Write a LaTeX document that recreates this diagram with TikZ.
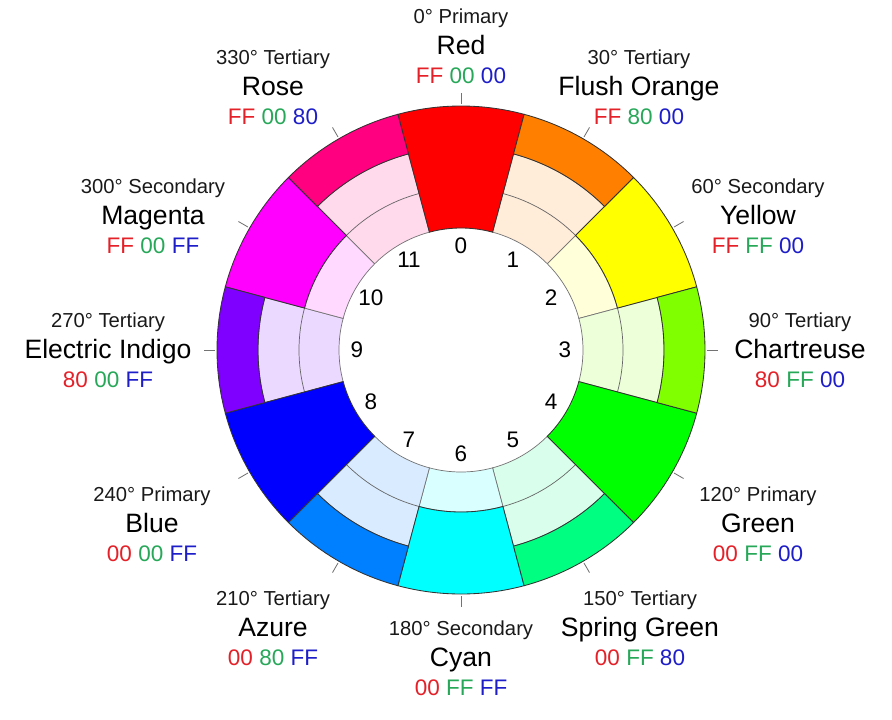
\documentclass[tikz,border=0pt]{standalone}
\usepackage{fontspec}
\setmainfont{Liberation Sans}
\usepackage{xcolor}
\usepackage{tikz}
\definecolor{hueRed}{HTML}{FF0000}
\definecolor{hueFlush}{HTML}{FF8000}
\definecolor{hueYellow}{HTML}{FFFF00}
\definecolor{hueChart}{HTML}{80FF00}
\definecolor{hueGreen}{HTML}{00FF00}
\definecolor{hueSpring}{HTML}{00FF80}
\definecolor{hueCyan}{HTML}{00FFFF}
\definecolor{hueAzure}{HTML}{0080FF}
\definecolor{hueBlue}{HTML}{0000FF}
\definecolor{hueIndigo}{HTML}{8000FF}
\definecolor{hueMagenta}{HTML}{FF00FF}
\definecolor{hueRose}{HTML}{FF0080}
\definecolor{hexred}{RGB}{228,32,40}
\definecolor{hexgreen}{RGB}{38,168,88}
\definecolor{hexblue}{RGB}{30,30,200}
\newcommand{\hexR}[1]{\textcolor{hexred}{#1}}
\newcommand{\hexG}[1]{\textcolor{hexgreen}{#1}}
\newcommand{\hexB}[1]{\textcolor{hexblue}{#1}}

\begin{document}
\begin{tikzpicture}[
    x=0.025cm, y=0.025cm,
    seg/.style={fill=#1, draw=black!80, line width=0.6pt},
    pale/.style={fill=#1!15, draw=black!55, line width=0.5pt},
    divide/.style={draw=black!60, line width=0.5pt},
    tick/.style={draw=black!55, line width=0.6pt},
    slot/.style={font=\fontsize{16}{19}\selectfont},
    degtext/.style={font=\fontsize{14.4}{17}\selectfont, text=black!90, anchor=base},
    cname/.style={font=\fontsize{18.9}{22}\selectfont, anchor=base},
    hexcode/.style={font=\fontsize{16}{19}\selectfont, anchor=base}
]
\useasboundingbox (-461,-369) rectangle (431,350);

% Pale inner bands
\filldraw[pale=hueFlush] (45:122) arc[start angle=45, end angle=75, radius=122] -- (75:203) arc[start angle=75, end angle=45, radius=203] -- cycle;
\filldraw[pale=hueYellow] (15:122) arc[start angle=15, end angle=45, radius=122] -- (45:162) arc[start angle=45, end angle=15, radius=162] -- cycle;
\filldraw[pale=hueChart] (-15:122) arc[start angle=-15, end angle=15, radius=122] -- (15:203) arc[start angle=15, end angle=-15, radius=203] -- cycle;
\filldraw[pale=hueSpring] (-75:122) arc[start angle=-75, end angle=-45, radius=122] -- (-45:203) arc[start angle=-45, end angle=-75, radius=203] -- cycle;
\filldraw[pale=hueCyan] (-105:122) arc[start angle=-105, end angle=-75, radius=122] -- (-75:162) arc[start angle=-75, end angle=-105, radius=162] -- cycle;
\filldraw[pale=hueAzure] (-135:122) arc[start angle=-135, end angle=-105, radius=122] -- (-105:203) arc[start angle=-105, end angle=-135, radius=203] -- cycle;
\filldraw[pale=hueIndigo] (165:122) arc[start angle=165, end angle=195, radius=122] -- (195:203) arc[start angle=195, end angle=165, radius=203] -- cycle;
\filldraw[pale=hueMagenta] (135:122) arc[start angle=135, end angle=165, radius=122] -- (165:162) arc[start angle=165, end angle=135, radius=162] -- cycle;
\filldraw[pale=hueRose] (105:122) arc[start angle=105, end angle=135, radius=122] -- (135:203) arc[start angle=135, end angle=105, radius=203] -- cycle;

% Dividing arcs of the tertiary bands
\draw[divide] (45:162) arc[start angle=45, end angle=75, radius=162];
\draw[divide] (-15:162) arc[start angle=-15, end angle=15, radius=162];
\draw[divide] (-75:162) arc[start angle=-75, end angle=-45, radius=162];
\draw[divide] (-135:162) arc[start angle=-135, end angle=-105, radius=162];
\draw[divide] (165:162) arc[start angle=165, end angle=195, radius=162];
\draw[divide] (105:162) arc[start angle=105, end angle=135, radius=162];

% Primary segments
\filldraw[seg=hueRed] (75:122) arc[start angle=75, end angle=105, radius=122] -- (105:244) arc[start angle=105, end angle=75, radius=244] -- cycle;
\filldraw[seg=hueGreen] (-45:122) arc[start angle=-45, end angle=-15, radius=122] -- (-15:244) arc[start angle=-15, end angle=-45, radius=244] -- cycle;
\filldraw[seg=hueBlue] (-165:122) arc[start angle=-165, end angle=-135, radius=122] -- (-135:244) arc[start angle=-135, end angle=-165, radius=244] -- cycle;

% Secondary segments
\filldraw[seg=hueYellow] (15:162) arc[start angle=15, end angle=45, radius=162] -- (45:244) arc[start angle=45, end angle=15, radius=244] -- cycle;
\filldraw[seg=hueCyan] (-105:162) arc[start angle=-105, end angle=-75, radius=162] -- (-75:244) arc[start angle=-75, end angle=-105, radius=244] -- cycle;
\filldraw[seg=hueMagenta] (135:162) arc[start angle=135, end angle=165, radius=162] -- (165:244) arc[start angle=165, end angle=135, radius=244] -- cycle;

% Tertiary segments
\filldraw[seg=hueFlush] (45:203) arc[start angle=45, end angle=75, radius=203] -- (75:244) arc[start angle=75, end angle=45, radius=244] -- cycle;
\filldraw[seg=hueChart] (-15:203) arc[start angle=-15, end angle=15, radius=203] -- (15:244) arc[start angle=15, end angle=-15, radius=244] -- cycle;
\filldraw[seg=hueSpring] (-75:203) arc[start angle=-75, end angle=-45, radius=203] -- (-45:244) arc[start angle=-45, end angle=-75, radius=244] -- cycle;
\filldraw[seg=hueAzure] (-135:203) arc[start angle=-135, end angle=-105, radius=203] -- (-105:244) arc[start angle=-105, end angle=-135, radius=244] -- cycle;
\filldraw[seg=hueIndigo] (165:203) arc[start angle=165, end angle=195, radius=203] -- (195:244) arc[start angle=195, end angle=165, radius=244] -- cycle;
\filldraw[seg=hueRose] (105:203) arc[start angle=105, end angle=135, radius=203] -- (135:244) arc[start angle=135, end angle=105, radius=244] -- cycle;

% Ticks
\draw[tick] (90:246) -- (90:257);
\draw[tick] (60:246) -- (60:257);
\draw[tick] (30:246) -- (30:257);
\draw[tick] (0:246) -- (0:257);
\draw[tick] (-30:246) -- (-30:257);
\draw[tick] (-60:246) -- (-60:257);
\draw[tick] (-90:246) -- (-90:257);
\draw[tick] (-120:246) -- (-120:257);
\draw[tick] (-150:246) -- (-150:257);
\draw[tick] (180:246) -- (180:257);
\draw[tick] (150:246) -- (150:257);
\draw[tick] (120:246) -- (120:257);

% Slot numbers
\node[slot] (n0) at (90:104) {0};
\node[slot] (n1) at (60:104) {1};
\node[slot] (n2) at (30:104) {2};
\node[slot] (n3) at (0:104) {3};
\node[slot] (n4) at (-30:104) {4};
\node[slot] (n5) at (-60:104) {5};
\node[slot] (n6) at (-90:104) {6};
\node[slot] (n7) at (-120:104) {7};
\node[slot] (n8) at (-150:104) {8};
\node[slot] (n9) at (180:104) {9};
\node[slot] (n10) at (150:104) {10};
\node[slot] (n11) at (120:104) {11};

% Red
\node[degtext] (redDeg) at (0,327) {0° Primary};
\node[cname] (redName) at (0,295.5) {Red};
\node[hexcode] (redHex) at (0,267) {\hexR{FF} \hexG{00} \hexB{00}};

% Flush Orange
\node[degtext] (flushDeg) at (178,286) {30° Tertiary};
\node[cname] (flushName) at (178,254.5) {Flush Orange};
\node[hexcode] (flushHex) at (178,226) {\hexR{FF} \hexG{80} \hexB{00}};

% Yellow
\node[degtext] (yellowDeg) at (297,157) {60° Secondary};
\node[cname] (yellowName) at (297,125.5) {Yellow};
\node[hexcode] (yellowHex) at (297,97) {\hexR{FF} \hexG{FF} \hexB{00}};

% Chartreuse
\node[degtext] (chartDeg) at (339,23) {90° Tertiary};
\node[cname] (chartName) at (339,-8.5) {Chartreuse};
\node[hexcode] (chartHex) at (339,-37) {\hexR{80} \hexG{FF} \hexB{00}};

% Green
\node[degtext] (greenDeg) at (297,-151) {120° Primary};
\node[cname] (greenName) at (297,-182.5) {Green};
\node[hexcode] (greenHex) at (297,-211) {\hexR{00} \hexG{FF} \hexB{00}};

% Spring Green
\node[degtext] (springDeg) at (179,-255) {150° Tertiary};
\node[cname] (springName) at (179,-286.5) {Spring Green};
\node[hexcode] (springHex) at (179,-315) {\hexR{00} \hexG{FF} \hexB{80}};

% Cyan
\node[degtext] (cyanDeg) at (0,-285) {180° Secondary};
\node[cname] (cyanName) at (0,-316.5) {Cyan};
\node[hexcode] (cyanHex) at (0,-345) {\hexR{00} \hexG{FF} \hexB{FF}};

% Azure
\node[degtext] (azureDeg) at (-188,-255) {210° Tertiary};
\node[cname] (azureName) at (-188,-286.5) {Azure};
\node[hexcode] (azureHex) at (-188,-315) {\hexR{00} \hexG{80} \hexB{FF}};

% Blue
\node[degtext] (blueDeg) at (-309,-151) {240° Primary};
\node[cname] (blueName) at (-309,-182.5) {Blue};
\node[hexcode] (blueHex) at (-309,-211) {\hexR{00} \hexG{00} \hexB{FF}};

% Electric Indigo
\node[degtext] (indigoDeg) at (-353,23) {270° Tertiary};
\node[cname] (indigoName) at (-353,-8.5) {Electric Indigo};
\node[hexcode] (indigoHex) at (-353,-37) {\hexR{80} \hexG{00} \hexB{FF}};

% Magenta
\node[degtext] (magentaDeg) at (-308,157) {300° Secondary};
\node[cname] (magentaName) at (-308,125.5) {Magenta};
\node[hexcode] (magentaHex) at (-308,97) {\hexR{FF} \hexG{00} \hexB{FF}};

% Rose
\node[degtext] (roseDeg) at (-188,286) {330° Tertiary};
\node[cname] (roseName) at (-188,254.5) {Rose};
\node[hexcode] (roseHex) at (-188,226) {\hexR{FF} \hexG{00} \hexB{80}};

\end{tikzpicture}
\end{document}
